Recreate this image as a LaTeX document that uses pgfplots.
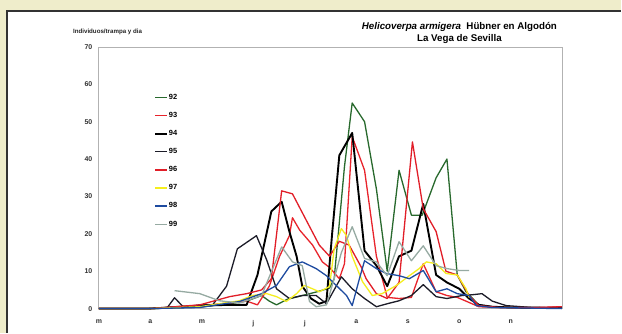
\documentclass[border=0pt]{standalone}
\usepackage{pgfplots}
\pgfplotsset{compat=1.18}
\usepackage{fontspec}
\setmainfont{Liberation Sans}
\definecolor{beige}{HTML}{EFEDCB}
\definecolor{c92}{RGB}{40,105,45}
\definecolor{c93}{RGB}{232,36,44}
\definecolor{c95}{RGB}{28,28,40}
\definecolor{c96}{RGB}{225,30,40}
\definecolor{c97}{RGB}{245,238,30}
\definecolor{c98}{RGB}{30,75,160}
\definecolor{c99}{RGB}{150,170,162}
\begin{document}
\begin{tikzpicture}
\fill[beige] (0bp,0bp) rectangle (622bp,333bp);
\fill[white] (7bp,0bp) rectangle (622bp,322bp);
\draw[line width=1.6bp, black!80] (7bp,0bp) -- (7bp,322bp) -- (622bp,322bp);
\begin{axis}[
  at={(99bp,24bp)}, anchor=south west,
  scale only axis, width=464bp, height=262bp,
  xmin=0, xmax=9, ymin=0, ymax=70,
  clip=false,
  axis line style={draw=gray!60, line width=0.8bp},
  major tick length=0pt,
  xtick={0,1,...,8}, xticklabels={m,a,m,j,j,a,s,o,n},
  ytick={0,10,...,70},
  /pgf/number format/assume math mode=true,
  ticklabel style={font=\fontsize{7}{8}\selectfont\bfseries, text=black!80},
  xticklabel style={yshift=-8bp},
  yticklabel style={xshift=-3bp},
  legend style={draw=none, fill=none, at={(0.113,0.83)}, anchor=north west,
    font=\fontsize{7.5}{8}\selectfont\bfseries, row sep=10.2bp,
    nodes={inner sep=0.6bp}},
  legend cell align=left,
  legend image code/.code={\draw[#1] (0bp,0bp) -- (12bp,0bp);},
  every axis plot/.append style={line width=1.3bp, line join=round},
]
\addplot[draw=c92] coordinates {(0,0)(1,0)(1.96,0.4)(2.54,1.3)(2.87,2)(3.16,3.5)(3.31,2)(3.45,1)(3.66,2.5)(3.95,3.5)(4.24,4.5)(4.48,5.5)(4.57,8)(4.77,38)(4.92,55)(5.16,50)(5.39,32)(5.60,10)(5.83,37)(6.07,25)(6.28,25)(6.55,35)(6.76,40)(6.96,9)(7.13,4.5)(7.38,1)(7.64,0.5)(8.0,0.3)(8.5,0.2)(8.99,0.2)};
\addlegendentry{92}
\addplot[draw=c93] coordinates {(0,0)(1,0)(1.96,0.8)(2.54,1.5)(2.87,2)(3.08,1)(3.31,6)(3.51,14)(3.70,19.5)(3.76,24.3)(3.90,21)(4.15,17)(4.34,12.5)(4.48,11)(4.67,8)(4.77,12)(4.92,46)(5.16,37)(5.39,14)(5.60,3)(5.83,2.7)(6.07,3)(6.30,12)(6.55,4.5)(6.76,3.5)(6.96,3)(7.13,2)(7.38,0.5)(7.77,0.3)(8.5,0.2)(8.99,0.5)};
\addlegendentry{93}
\addplot[draw=black, line width=1.9bp] coordinates {(0,0)(1,0)(1.96,0.8)(2.54,1)(2.87,1)(3.08,9)(3.35,26)(3.55,28.6)(3.70,20.6)(3.84,14)(3.95,6)(4.12,2.7)(4.28,1.3)(4.42,2)(4.53,20)(4.67,41)(4.92,47)(5.16,15.5)(5.39,11.5)(5.60,6)(5.83,14)(6.07,15.5)(6.30,28)(6.55,9)(6.76,7)(7.00,5.3)(7.19,2.7)(7.38,1)(7.64,0.5)(8.0,0.3)(8.99,0.2)};
\addlegendentry{94}
\addplot[draw=c95] coordinates {(0,0)(0.9,0)(1.33,0.3)(1.47,2.9)(1.65,0.3)(1.96,1)(2.21,1)(2.48,6)(2.69,16)(3.06,19.5)(3.26,13)(3.45,5.3)(3.70,2.7)(3.95,3.5)(4.22,3.5)(4.42,1.3)(4.71,8.5)(4.92,5.3)(5.16,2.7)(5.39,0.5)(5.60,1.3)(5.83,2.1)(6.07,3.5)(6.30,6.4)(6.55,3.2)(6.76,2.7)(7.05,3.5)(7.25,3.7)(7.44,4)(7.64,2)(7.91,0.8)(8.41,0.3)(8.99,0.2)};
\addlegendentry{95}
\addplot[draw=c96] coordinates {(0,0)(1,0)(1.96,1)(2.54,3.2)(2.87,4)(3.16,5)(3.35,8)(3.55,31.5)(3.76,30.7)(3.90,27)(4.28,17)(4.48,14)(4.67,18)(4.86,17)(5.10,11)(5.19,8)(5.39,4)(5.60,2.7)(5.83,7)(6.09,44.6)(6.30,26.7)(6.55,20.6)(6.74,10)(6.96,9)(7.19,3.5)(7.38,0.8)(7.77,0.3)(8.5,0.3)(8.99,0.5)};
\addlegendentry{96}
\addplot[draw=c97] coordinates {(0,0)(1,0)(1.96,0.5)(2.34,1.3)(2.73,2.1)(2.98,3.5)(3.26,4)(3.45,3.2)(3.64,1.9)(3.84,4)(3.99,6.2)(4.15,5.3)(4.28,4.5)(4.48,5.9)(4.57,16)(4.71,21.4)(4.81,19.5)(4.92,14)(5.12,7.2)(5.31,3.5)(5.50,4)(5.78,6.2)(6.03,8.8)(6.22,10.7)(6.36,12.5)(6.55,12)(6.74,9.4)(6.96,9)(7.13,5.3)(7.19,3)};
\addlegendentry{97}
\addplot[draw=c98] coordinates {(0,0)(1,0)(1.96,0.3)(2.73,1.9)(3.16,4)(3.45,6.2)(3.70,11.2)(3.95,12.5)(4.22,10.7)(4.42,8.8)(4.61,6.2)(4.81,3.5)(4.92,0.8)(5.06,8)(5.16,12.8)(5.39,10.7)(5.58,9.4)(5.83,8.8)(6.03,8)(6.30,10.2)(6.55,4.5)(6.76,5.3)(6.96,4)(7.19,3.5)(7.33,0.8)(7.64,0.3)(8.99,0)};
\addlegendentry{98}
\addplot[draw=c99] coordinates {(1.47,4.8)(1.96,4)(2.34,2.1)(2.73,1.5)(3.16,3.5)(3.55,16.5)(3.76,12.5)(3.95,11.5)(4.09,1.9)(4.22,0.5)(4.42,1)(4.57,8)(4.71,15)(4.92,21.9)(5.16,13.4)(5.39,12.5)(5.60,8.8)(5.83,17.9)(6.07,12.8)(6.30,16.8)(6.55,11.5)(6.76,10.7)(7.00,10.2)(7.19,10.2)};
\addlegendentry{99}
\end{axis}
\node[font=\fontsize{9.8}{11}\selectfont\bfseries, inner sep=0pt] at (460bp,306bp) {\textit{Helicoverpa armigera}\ \ Hübner en Algodón};
\node[font=\fontsize{9.8}{11}\selectfont\bfseries, inner sep=0pt] at (460bp,294bp) {La Vega de Sevilla};
\node[anchor=west, font=\fontsize{6.2}{7}\selectfont\bfseries, inner sep=0pt, text=black!85] at (73bp,301bp) {Individuos/trampa y dia};
\end{tikzpicture}
\end{document}
